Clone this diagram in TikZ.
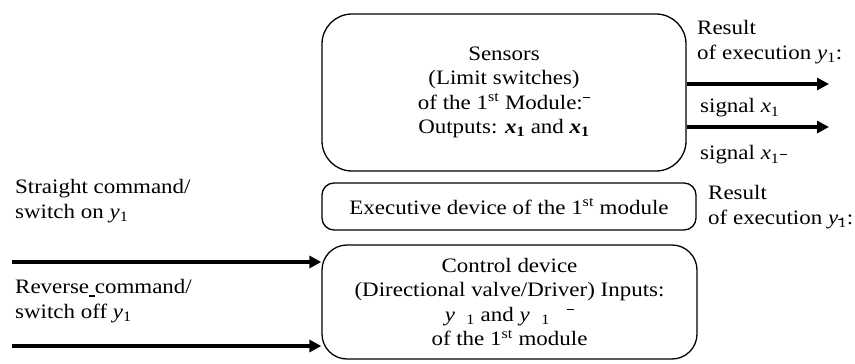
\documentclass[tikz,border=0pt]{standalone}
\usepackage{fontspec}
\setmainfont[FakeStretch=1.12]{Liberation Serif}
\usetikzlibrary{arrows.meta}

% italic variables with subscript 1
\newcommand{\vy}{\textit{y}\textsubscript{1}}
\newcommand{\vx}{\textit{x}\textsubscript{1}}
\newcommand{\bvx}{\textbf{\textit{x}\textsubscript{1}}}
\newcommand{\st}{1\textsuperscript{st}}
% stray bar marks
\newcommand{\hibar}[1]{\raisebox{#1}{\rule{0.35em}{0.06em}}}

\tikzset{
  txt/.style={font=\fontsize{20.5pt}{24.5pt}\selectfont, inner sep=0pt},
  box/.style={draw, line width=1.3pt, txt, align=center},
  lbl/.style={txt, align=left, anchor=west},
  arr/.style={line width=3.6pt, -{Triangle[length=12pt,width=12pt]}}
}

\begin{document}
\begin{tikzpicture}[x=1pt,y=-1pt]
\useasboundingbox (0,0) rectangle (855,364);

% the three blocks
\node[box, minimum width=364pt, minimum height=157pt, rounded corners=30pt]
  (sens) at (504,92.5)
  {Sensors\\(Limit switches)\\of the \st{} Module:\hibar{0.55em}\\Outputs: \bvx{} and \bvx};

\node[box, minimum width=374pt, minimum height=47pt, rounded corners=12pt]
  (exec) at (509,206.5) {Executive device of the \st{} module};

\node[box, minimum width=375pt, minimum height=114pt, rounded corners=25pt]
  (ctrl) at (509.5,302)
  {Control device\\(Directional valve/Driver) Inputs:\\
   \textit{y}\ \ \textsubscript{1} and \textit{y}\ \ \textsubscript{1}\ \ \ \hibar{0.55em}\\
   of the \st{} module};

% free ends of the connectors
\coordinate (o1) at (829,84);
\coordinate (o2) at (829,127);
\coordinate (i1) at (12,262);
\coordinate (i2) at (12,346);

\draw[arr] (o1 -| sens.east) -- (o1);
\draw[arr] (o2 -| sens.east) -- (o2);
\draw[arr] (i1) -- (i1 -| ctrl.west);
\draw[arr] (i2) -- (i2 -| ctrl.west);

% labels
\node[lbl] (res1) at (697,42) {Result\\of execution \vy:};
\node[lbl] (sig1) at (700,108) {signal \vx};
\node[lbl] (sig2) at (700,155) {signal \vx\hibar{0.25em}};
\node[lbl] (res2) at (708,207)
  {Result\\of execution \textit{y}\textsubscript{\rlap{\raisebox{0.55em}{\rule{0.3em}{0.06em}}}1}:};
\node[lbl] (cmd1) at (15,201) {Straight command/\\switch on \vy};
\node[lbl] (cmd2) at (15,301)
  {Reverse\rlap{\raisebox{-0.15em}{\rule{0.3em}{0.06em}}} command/\\switch off \vy};
\end{tikzpicture}
\end{document}
